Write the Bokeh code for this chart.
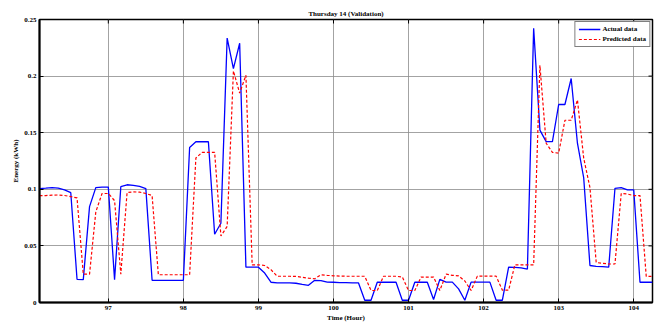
import math
from bokeh.plotting import figure
from bokeh.models import Range1d, FixedTicker, Legend, LegendItem
from bokeh.embed import file_html
from bokeh.resources import INLINE

# time in hours, 5-minute steps
hours = [96 + (i + 1) / 12 for i in range(99)]

actual = [
    0.1006, 0.101, 0.1015, 0.101, 0.0995, 0.097, 0.0205, 0.0202, 0.0847, 0.1015,
    0.102, 0.102, 0.0202, 0.1023, 0.104, 0.1035, 0.1025, 0.1006, 0.0196, 0.0196,
    0.0196, 0.0196, 0.0196, 0.0196, 0.137, 0.142, 0.142, 0.142, 0.0603, 0.070,
    0.2336, 0.2066, 0.229, 0.0312, 0.0312, 0.0312, 0.026, 0.0179, 0.0173, 0.0173,
    0.0173, 0.017, 0.016, 0.0152, 0.0196, 0.0193, 0.018, 0.0179, 0.0176, 0.0176,
    0.0173, 0.0173, 0.002, 0.002, 0.0179, 0.0179, 0.0179, 0.0179, 0.002, 0.002,
    0.0179, 0.0179, 0.0179, 0.0026, 0.0204, 0.018, 0.018, 0.012, 0.002, 0.018,
    0.018, 0.018, 0.018, 0.002, 0.002, 0.0312, 0.031, 0.0305, 0.0295, 0.2423,
    0.1523, 0.1421, 0.1421, 0.1749, 0.1749, 0.1979, 0.1407, 0.1102, 0.0327, 0.032,
    0.0317, 0.0312, 0.1009, 0.1015, 0.0995, 0.0995, 0.0179, 0.0179, 0.0179,
]

predicted = [
    0.0945, 0.0945, 0.0948, 0.095, 0.0945, 0.0936, 0.0924, 0.0251, 0.0251, 0.080,
    0.0963, 0.0963, 0.090, 0.0251, 0.0971, 0.0977, 0.0975, 0.0963, 0.0945, 0.0245,
    0.0245, 0.0245, 0.0245, 0.0245, 0.0245, 0.1276, 0.1326, 0.1326, 0.1326, 0.0588,
    0.0672, 0.2045, 0.185, 0.2008, 0.0333, 0.0333, 0.0327, 0.029, 0.0232, 0.0232,
    0.0232, 0.0230, 0.0223, 0.0215, 0.021, 0.0245, 0.024, 0.0236, 0.0233, 0.0232,
    0.0232, 0.0232, 0.0232, 0.0106, 0.0106, 0.0232, 0.0232, 0.0232, 0.0225, 0.0106,
    0.0106, 0.0225, 0.0225, 0.0225, 0.0106, 0.025, 0.024, 0.0235, 0.019, 0.0106,
    0.0233, 0.0233, 0.0233, 0.0233, 0.0109, 0.0109, 0.0333, 0.0333, 0.0333, 0.0333,
    0.2095, 0.1407, 0.1326, 0.132, 0.161, 0.161, 0.179, 0.1276, 0.1015, 0.0353,
    0.0347, 0.034, 0.034, 0.0963, 0.0958, 0.0944, 0.0944, 0.0231, 0.0231,
]

x_ticks = [97, 98, 99, 100, 101, 102, 103, 104]
y_ticks = [0, 0.05, 0.1, 0.15, 0.2, 0.25]
y_tick_labels = {0: "0", 0.05: "0.05", 0.1: "0.1", 0.15: "0.15", 0.2: "0.2", 0.25: "0.25"}

FONT = "Liberation Serif"
FS = "7px"

x_lo, x_hi = hours[0], hours[-1]
y_lo, y_hi = 0, 0.25

p = figure(width=658, height=324, output_backend="svg", toolbar_location=None,
           x_range=Range1d(x_lo, x_hi), y_range=Range1d(y_lo, y_hi),
           min_border_left=39, min_border_right=6, min_border_top=19, min_border_bottom=17)

p.title.text = "Thursday 14 (Validation)"
p.title.align = "center"
p.title.text_font = FONT
p.title.text_font_size = FS
p.title.text_font_style = "bold"
p.title.text_color = "black"
p.title.offset = 0
p.title.standoff = 4

p.background_fill_color = "white"
p.border_fill_color = "white"
p.outline_line_color = "black"
p.outline_line_width = 1.5

for ax in (p.xaxis[0], p.yaxis[0]):
    ax.axis_line_width = 2
    ax.axis_line_color = "black"
    ax.major_tick_in = 4
    ax.major_tick_out = 0
    ax.minor_tick_line_color = None
    ax.major_tick_line_color = "black"
    ax.major_label_text_font = FONT
    ax.major_label_text_font_size = FS
    ax.major_label_text_font_style = "bold"
    ax.major_label_text_color = "black"
    ax.axis_label_text_font = FONT
    ax.axis_label_text_font_size = FS
    ax.axis_label_text_font_style = "bold"
    ax.axis_label_text_color = "black"
    ax.axis_label_standoff = 1
    ax.major_label_standoff = 3

p.xaxis[0].ticker = FixedTicker(ticks=x_ticks)
p.yaxis[0].ticker = FixedTicker(ticks=y_ticks)
p.yaxis[0].major_label_overrides = y_tick_labels
p.xaxis[0].axis_label = "Time (Hour)"
p.yaxis[0].axis_label = "Energy (kWh)"

p.xgrid.ticker = FixedTicker(ticks=x_ticks)
p.ygrid.ticker = FixedTicker(ticks=y_ticks)
for g in (p.xgrid[0], p.ygrid[0]):
    g.grid_line_color = "#8c8c8c"
    g.grid_line_width = 1
    g.grid_line_alpha = 0.8

# mirrored tick marks on the top and right edges (clipped to the frame)
p.scatter(x_ticks, [y_hi] * len(x_ticks), marker="dash", size=8, angle=math.pi / 2,
          line_color="black", line_width=1)
p.scatter([x_hi] * len(y_ticks), y_ticks, marker="dash", size=8,
          line_color="black", line_width=1)

r1 = p.line(hours, actual, line_color="#0000ff", line_width=1.3)
r2 = p.line(hours, predicted, line_color="#ff0000", line_width=1.2, line_dash="3 2")

legend = Legend(items=[LegendItem(label="Actual data", renderers=[r1]),
                       LegendItem(label="Predicted data", renderers=[r2])],
                location="top_right")
legend.label_text_font = FONT
legend.label_text_font_size = FS
legend.label_text_font_style = "bold"
legend.label_text_color = "black"
legend.label_height = 8
legend.glyph_height = 8
legend.glyph_width = 22
legend.spacing = 2
legend.padding = 3
legend.margin = 2
legend.label_standoff = 2
legend.border_line_color = "black"
legend.border_line_width = 1.5
p.add_layout(legend)

open("out.html", "w").write(file_html(p, INLINE))
